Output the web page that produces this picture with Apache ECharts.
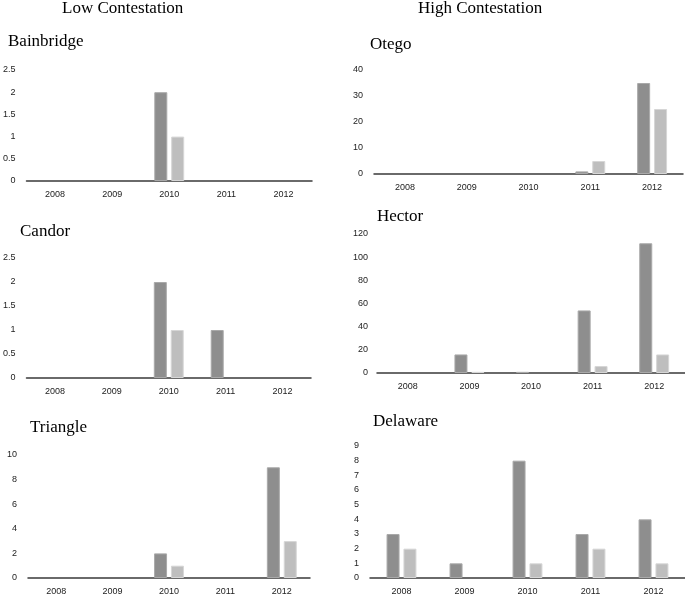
<!DOCTYPE html>
<html>
<head>
<meta charset="utf-8">
<script src="https://cdn.jsdelivr.net/npm/echarts@6/dist/echarts.min.js"></script>
<style>
html,body{margin:0;padding:0;background:#fff;}
#c{width:685px;height:596px;}
</style>
</head>
<body>
<div id="c"></div>
<script>
// ---- data ----
var years = ['2008', '2009', '2010', '2011', '2012'];

var bainbridgeDark = [0, 0, 2, 0, 0];
var bainbridgeLight = [0, 0, 1, 0, 0];
var candorDark = [0, 0, 2, 1, 0];
var candorLight = [0, 0, 1, 0, 0];
var triangleDark = [0, 0, 2, 0, 9];
var triangleLight = [0, 0, 1, 0, 3];
var otegoDark = [0, 0, 0, 1, 35];
var otegoLight = [0, 0, 0, 5, 25];
var hectorDark = [0, 16, 1, 54, 112];
var hectorLight = [0, 1, 0, 6, 16];
var delawareDark = [3, 1, 8, 3, 4];
var delawareLight = [2, 0, 1, 2, 1];

var panelNames = ['Bainbridge', 'Otego', 'Candor', 'Hector', 'Triangle', 'Delaware'];
var columnHeads = ['Low Contestation', 'High Contestation'];
var yMax = [2.5, 40, 2.5, 120, 10, 9];
var yStep = [0.5, 10, 0.5, 20, 2, 1];

var panelData = [
  [bainbridgeDark, bainbridgeLight],
  [otegoDark, otegoLight],
  [candorDark, candorLight],
  [hectorDark, hectorLight],
  [triangleDark, triangleLight],
  [delawareDark, delawareLight]
];

// ---- layout ----
var grids = [
  {left: 24, top: 70, width: 288, height: 111},
  {left: 374, top: 70, width: 309, height: 104},
  {left: 24, top: 258, width: 287, height: 120},
  {left: 377, top: 234, width: 308, height: 139},
  {left: 28, top: 455, width: 282, height: 124},
  {left: 370, top: 446, width: 315, height: 132}
];
var titlePos = [
  {left: 8, top: 33},
  {left: 370, top: 36},
  {left: 20, top: 223},
  {left: 377, top: 208},
  {left: 30, top: 419},
  {left: 373, top: 413}
];
var headPos = [
  {left: 62, top: 0},
  {left: 418, top: 0}
];

var serif = '"Liberation Serif", "Times New Roman", serif';
var sans = '"Liberation Sans", Arial, sans-serif';

var titles = [];
columnHeads.forEach(function (t, i) {
  titles.push({text: t, left: headPos[i].left, top: headPos[i].top, padding: 0,
    textStyle: {fontFamily: serif, fontSize: 17, fontWeight: 'normal', color: '#000'}});
});
panelNames.forEach(function (t, i) {
  titles.push({text: t, left: titlePos[i].left, top: titlePos[i].top, padding: 0,
    textStyle: {fontFamily: serif, fontSize: 17, fontWeight: 'normal', color: '#000'}});
});

// zero values are not drawn as bars (no visible mark)
function barValues(arr) {
  return arr.map(function (v) { return v === 0 ? '-' : v; });
}

var xAxes = [], yAxes = [], series = [];
grids.forEach(function (g, i) {
  xAxes.push({
    type: 'category', gridIndex: i, data: years,
    axisLine: {lineStyle: {color: '#3a3a3a', width: 1.5}},
    axisTick: {show: false},
    axisLabel: {fontFamily: sans, fontSize: 9, color: '#222', margin: 9, interval: 0}
  });
  yAxes.push({
    type: 'value', gridIndex: i, min: 0, max: yMax[i], interval: yStep[i],
    axisLine: {show: false}, axisTick: {show: false}, splitLine: {show: false},
    axisLabel: {fontFamily: sans, fontSize: 9, color: '#222', margin: (i === 3 ? 9 : 11)}
  });
  series.push({
    type: 'bar', xAxisIndex: i, yAxisIndex: i, data: barValues(panelData[i][0]),
    barWidth: 13, barGap: '30%', silent: true,
    itemStyle: {color: '#8e8e8e', borderColor: '#a9a9a9', borderWidth: 1}
  });
  series.push({
    type: 'bar', xAxisIndex: i, yAxisIndex: i, data: barValues(panelData[i][1]),
    barWidth: 13, barGap: '30%', silent: true,
    itemStyle: {color: '#bebebe', borderColor: '#d6d6d6', borderWidth: 1}
  });
});

var chart = echarts.init(document.getElementById('c'), null, {renderer: 'canvas'});
chart.setOption({
  animation: false,
  backgroundColor: '#fff',
  title: titles,
  grid: grids,
  xAxis: xAxes,
  yAxis: yAxes,
  series: series
});
</script>
</body>
</html>
